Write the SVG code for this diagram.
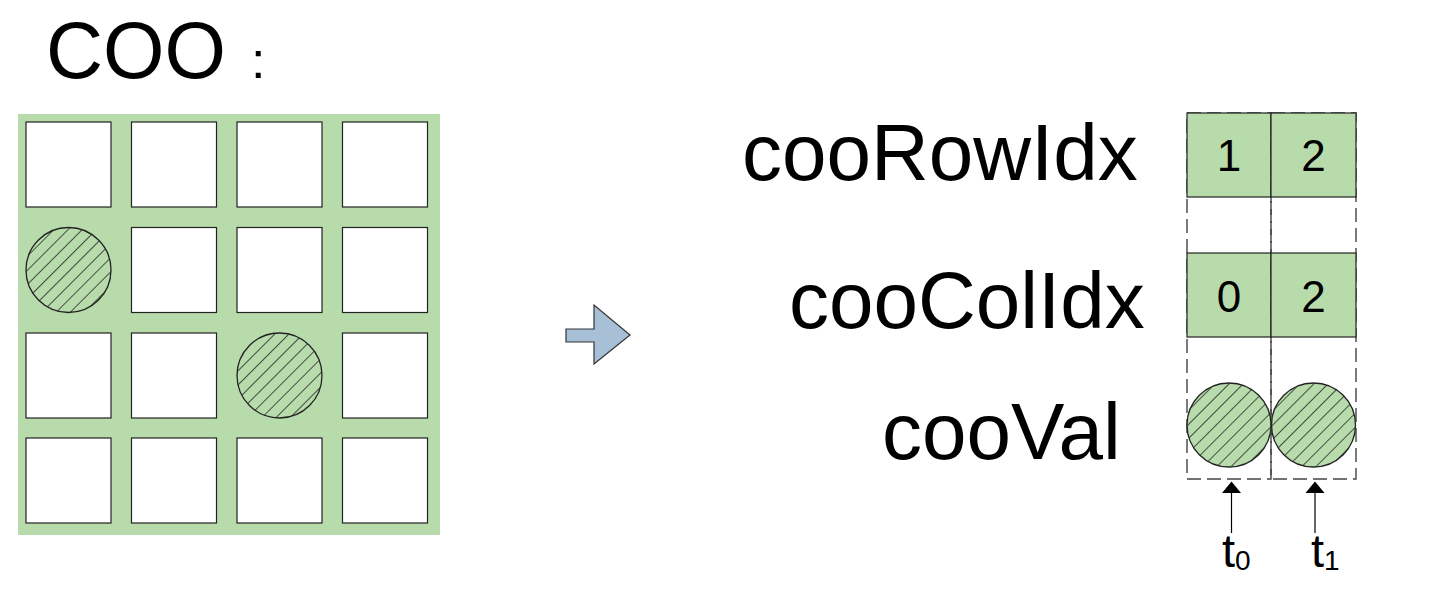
<svg xmlns="http://www.w3.org/2000/svg" width="1432" height="602" viewBox="0 0 1432 602">
<style>
.t{font-family:"Liberation Sans",Arial,sans-serif;fill:#000}
.cell{fill:#fff;stroke:#222;stroke-width:1.2}
.box{fill:#b7dbab;stroke:#222;stroke-width:1.2}
.dash{fill:none;stroke:#444;stroke-width:1.4;stroke-dasharray:14 6}
.hatch{fill:url(#h);stroke:#222;stroke-width:1.3}
.num{font-size:44px;text-anchor:middle}
.lbl{font-size:80px}
</style>
<defs>
<pattern id="h" patternUnits="userSpaceOnUse" width="10" height="10" patternTransform="rotate(45)">
<rect width="10" height="10" fill="#b7dbab"/>
<line x1="0" y1="0" x2="0" y2="10" stroke="#111" stroke-width="1.4"/>
</pattern>
</defs>

<g id="title">
<text class="t" x="46" y="78" font-size="79">COO</text>
<text class="t" x="251" y="78" font-size="52">:</text>
</g>

<g id="matrix">
<rect x="18" y="114" width="422" height="421" fill="#b7dbab"/>
<rect class="cell" x="26" y="122" width="85" height="85"/>
<rect class="cell" x="131.5" y="122" width="85" height="85"/>
<rect class="cell" x="237" y="122" width="85" height="85"/>
<rect class="cell" x="342.5" y="122" width="85" height="85"/>
<circle class="hatch" cx="68.5" cy="270" r="42.5"/>
<rect class="cell" x="131.5" y="227.5" width="85" height="85"/>
<rect class="cell" x="237" y="227.5" width="85" height="85"/>
<rect class="cell" x="342.5" y="227.5" width="85" height="85"/>
<rect class="cell" x="26" y="333" width="85" height="85"/>
<rect class="cell" x="131.5" y="333" width="85" height="85"/>
<circle class="hatch" cx="279.5" cy="375.5" r="42.5"/>
<rect class="cell" x="342.5" y="333" width="85" height="85"/>
<rect class="cell" x="26" y="438" width="85" height="85"/>
<rect class="cell" x="131.5" y="438" width="85" height="85"/>
<rect class="cell" x="237" y="438" width="85" height="85"/>
<rect class="cell" x="342.5" y="438" width="85" height="85"/>
</g>

<g id="block-arrow">
<path d="M566,329 L594,329 L594,305 L630,335 L594,364 L594,342 L566,342 Z" fill="#a7c0d8" stroke="#333" stroke-width="1.2"/>
</g>

<g id="labels">
<text class="t lbl" x="742" y="180">cooRowIdx</text>
<text class="t lbl" x="789" y="328">cooColIdx</text>
<text class="t lbl" x="882" y="459">cooVal</text>
</g>

<g id="col0">
<rect class="dash" x="1187" y="113" width="84" height="366"/>
<rect class="box" x="1187" y="113" width="84" height="84"/>
<text class="t num" x="1229" y="171">1</text>
<rect class="box" x="1187" y="253" width="84" height="84"/>
<text class="t num" x="1229" y="312">0</text>
<circle class="hatch" cx="1229" cy="425" r="42"/>
</g>
<g id="col1">
<rect class="dash" x="1271" y="113" width="85" height="366"/>
<rect class="box" x="1271" y="113" width="85" height="84"/>
<text class="t num" x="1313.5" y="171">2</text>
<rect class="box" x="1271" y="253" width="85" height="84"/>
<text class="t num" x="1313.5" y="312">2</text>
<circle class="hatch" cx="1313.5" cy="425" r="42"/>
</g>

<g id="connectors">
<line x1="1231.5" y1="533" x2="1231.5" y2="491" stroke="#000" stroke-width="1.2"/>
<path d="M1222,493 L1231.5,481.5 L1241,493 Z" fill="#000"/>
<line x1="1315" y1="533" x2="1315" y2="491" stroke="#000" stroke-width="1.2"/>
<path d="M1305.5,493 L1315,481.5 L1324.5,493 Z" fill="#000"/>
</g>

<g id="threads">
<text class="t" x="1222" y="567" font-size="47">t<tspan font-size="28" dy="3">0</tspan></text>
<text class="t" x="1311" y="567" font-size="47">t<tspan font-size="28" dy="3">1</tspan></text>
</g>
</svg>
